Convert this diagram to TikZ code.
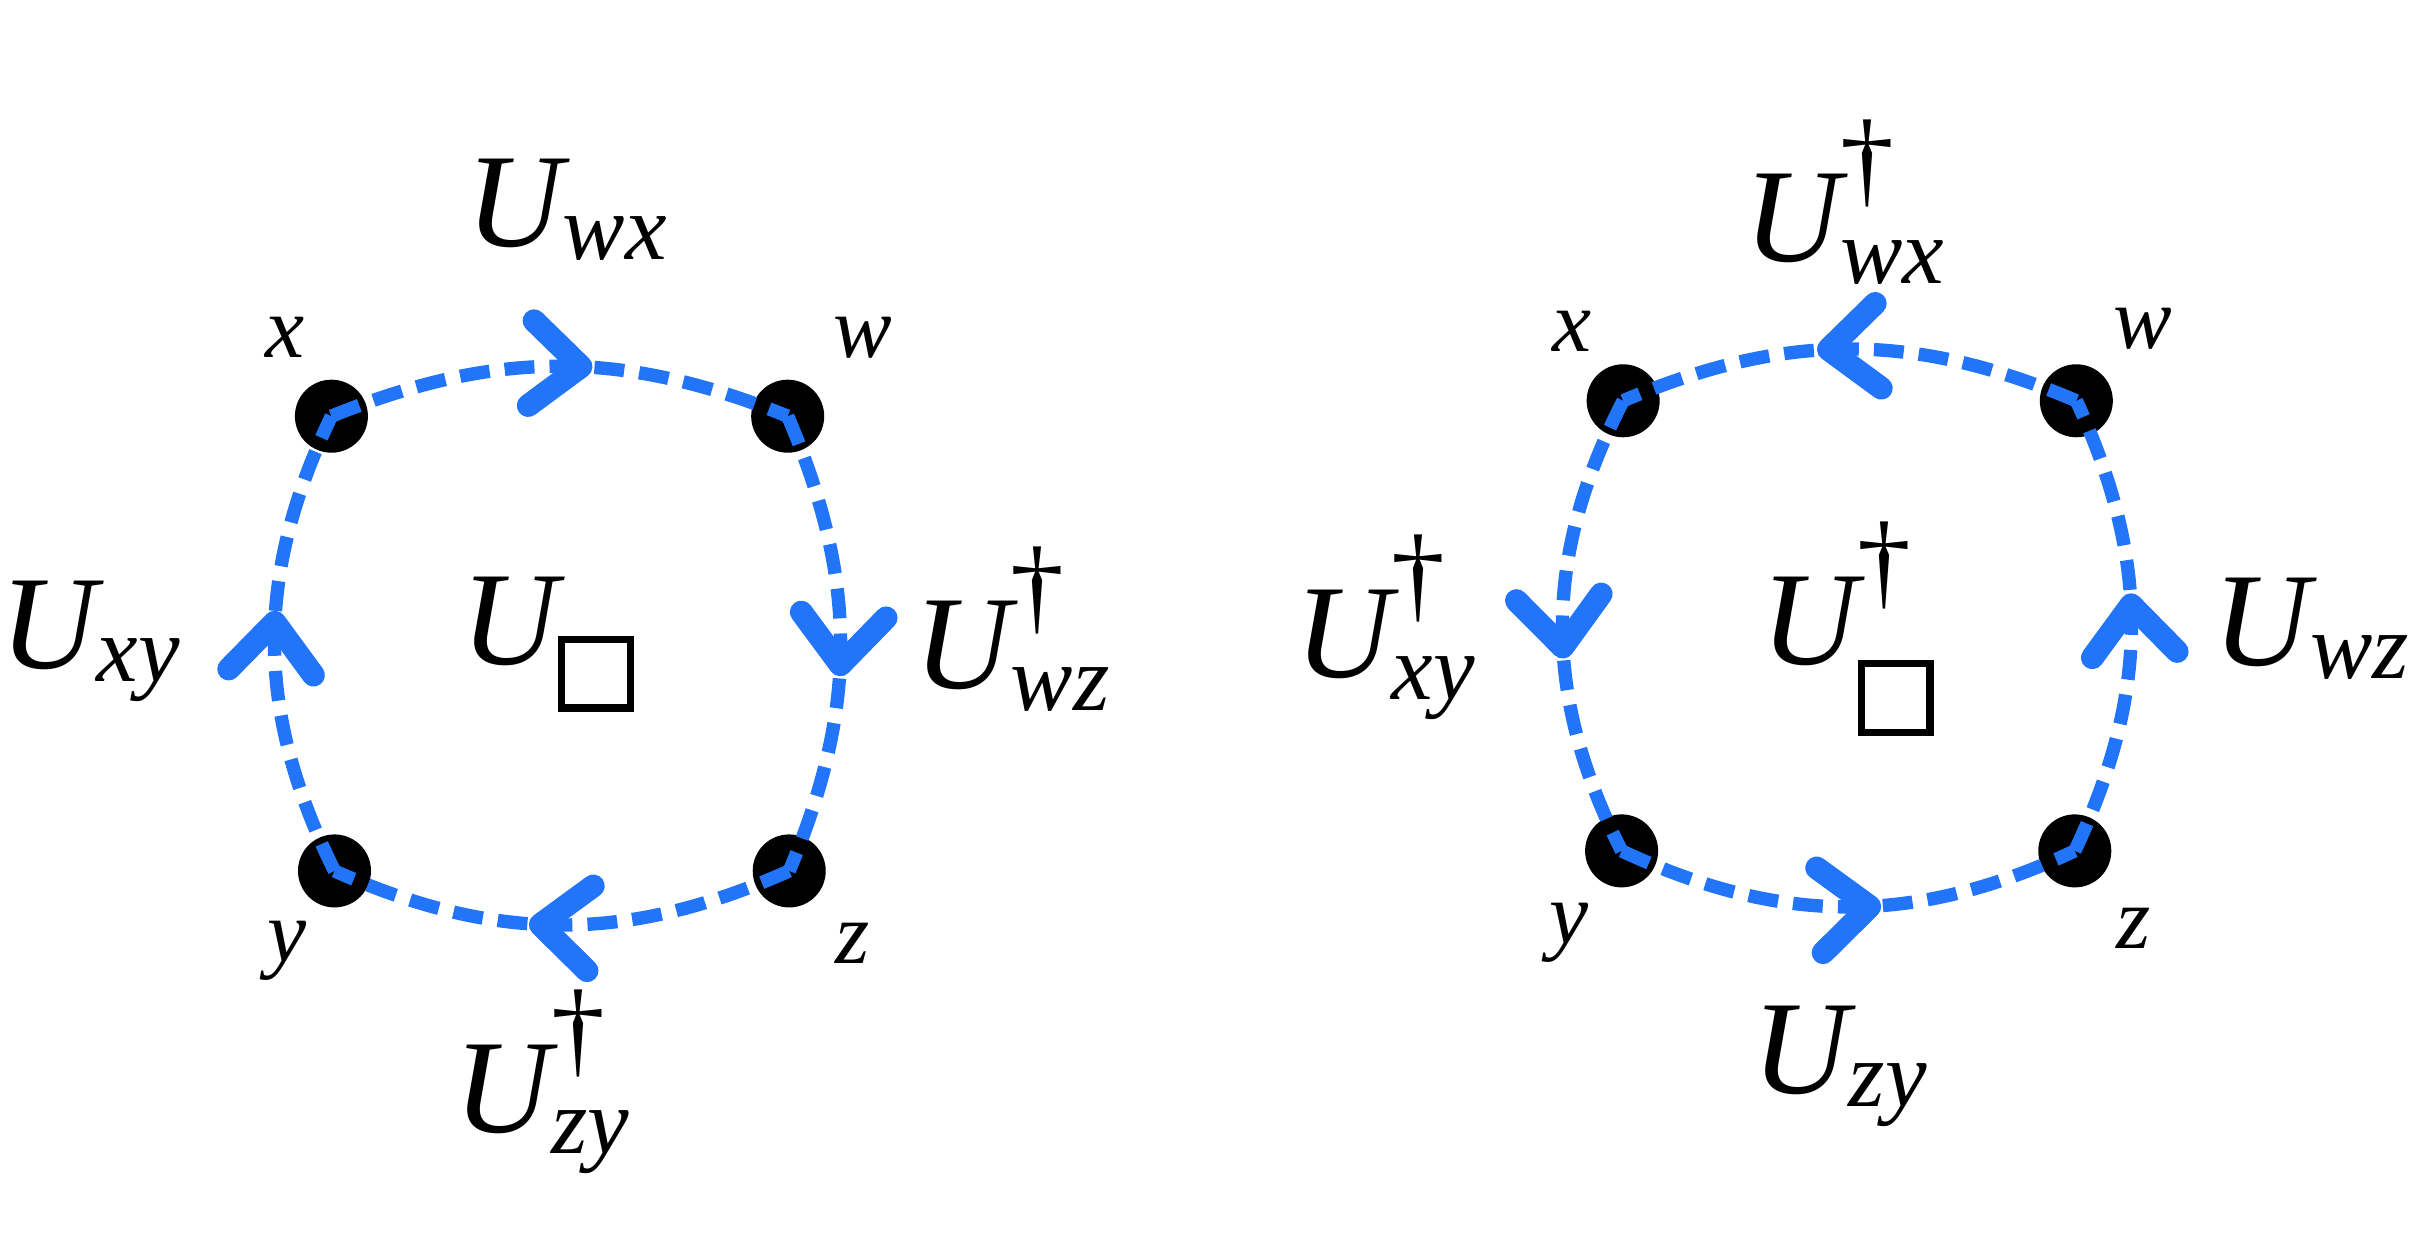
\documentclass[tikz,border=0pt]{standalone}
\usepackage{amsmath}
\usepackage{graphicx}
\usepackage{fontspec}
\setmainfont{Liberation Serif}
\usetikzlibrary{arrows.meta,decorations.markings}
\definecolor{linkblue}{HTML}{2274F8}
\newcommand{\plaq}[1][0.2em]{\raisebox{-#1}{\setlength{\fboxsep}{0pt}\setlength{\fboxrule}{0.055em}\framebox{\rule{0pt}{0.46em}\rule{0.46em}{0pt}}}}
\newcommand{\dg}{\text{\raisebox{0.15em}{\scalebox{1.15}{†}}}}
\newcommand{\Ulink}[1]{$\text{\itshape U}_{\text{\itshape #1}}$}
\newcommand{\Udag}[1]{$\text{\itshape U}^{\dg}_{\text{\itshape #1}}$}

\begin{document}
\begin{tikzpicture}[x=0.015415cm, y=0.015415cm,
  site/.style={circle, fill=black, minimum size=0.73cm, inner sep=0pt},
  lbl/.style={font=\fontsize{38}{42}\selectfont, inner sep=0pt},
  vlbl/.style={font=\fontsize{25}{28}\selectfont\itshape, inner sep=0pt},
  link/.style={linkblue, line width=3.8pt, dash pattern=on 8.5pt off 4.3pt, postaction={decorate},
    decoration={markings, mark=at position 0.57 with {\arrow{Straight Barb[length=0.5cm, width=0.85cm, line width=6.5pt, round]}}}}]
\useasboundingbox (0,0) rectangle (1568,812);
\node[site] (xl) at (215,542) {};
\node[site] (wl) at (511,542) {};
\node[site] (yl) at (217,247) {};
\node[site] (zl) at (512,247) {};
\node[site] (xr) at (1053,552) {};
\node[site] (wr) at (1347,552) {};
\node[site] (yr) at (1052,260) {};
\node[site] (zr) at (1346,260) {};
\draw[link] (xl.center) to[bend left=22] (wl.center);
\draw[link] (wl.center) to[bend left=23] (zl.center);
\draw[link] (zl.center) to[bend left=24] (yl.center);
\draw[link] (yl.center) to[bend left=26] (xl.center);
\draw[link] (wr.center) to[bend right=23] (xr.center);
\draw[link] (xr.center) to[bend right=27] (yr.center);
\draw[link] (yr.center) to[bend right=25] (zr.center);
\draw[link] (zr.center) to[bend right=25] (wr.center);
\node[vlbl] (lxl) at (185,593) {x};
\node[vlbl] (lwl) at (560,593) {w};
\node[vlbl] (lyl) at (186,195) {y};
\node[vlbl] (lzl) at (553,200) {z};
\node[vlbl] (lxr) at (1020,597) {x};
\node[vlbl] (lwr) at (1390,599) {w};
\node[vlbl] (lyr) at (1018,207) {y};
\node[vlbl] (lzr) at (1384,210) {z};
\node[lbl] (uwxl) at (368,676) {\Ulink{wx}};
\node[lbl] (uxyl) at (59,396) {\Ulink{xy}};
\node[lbl] (upl) at (356,394) {$\text{\itshape U}_{\plaq}$};
\node[lbl] (uwzl) at (657,404) {\Udag{wz}};
\node[lbl] (uzyl) at (352,110) {\Udag{zy}};
\node[lbl] (uwxr) at (1197,681) {\Udag{wx}};
\node[lbl] (uxyr) at (899,405) {\Udag{xy}};
\node[lbl] (upr) at (1199,404) {$\text{\itshape U}^{\dg}_{\plaq[0.32em]}$};
\node[lbl] (uwzr) at (1500,404) {\Ulink{wz}};
\node[lbl] (uzyr) at (1194,120) {\Ulink{zy}};
\end{tikzpicture}
\end{document}
